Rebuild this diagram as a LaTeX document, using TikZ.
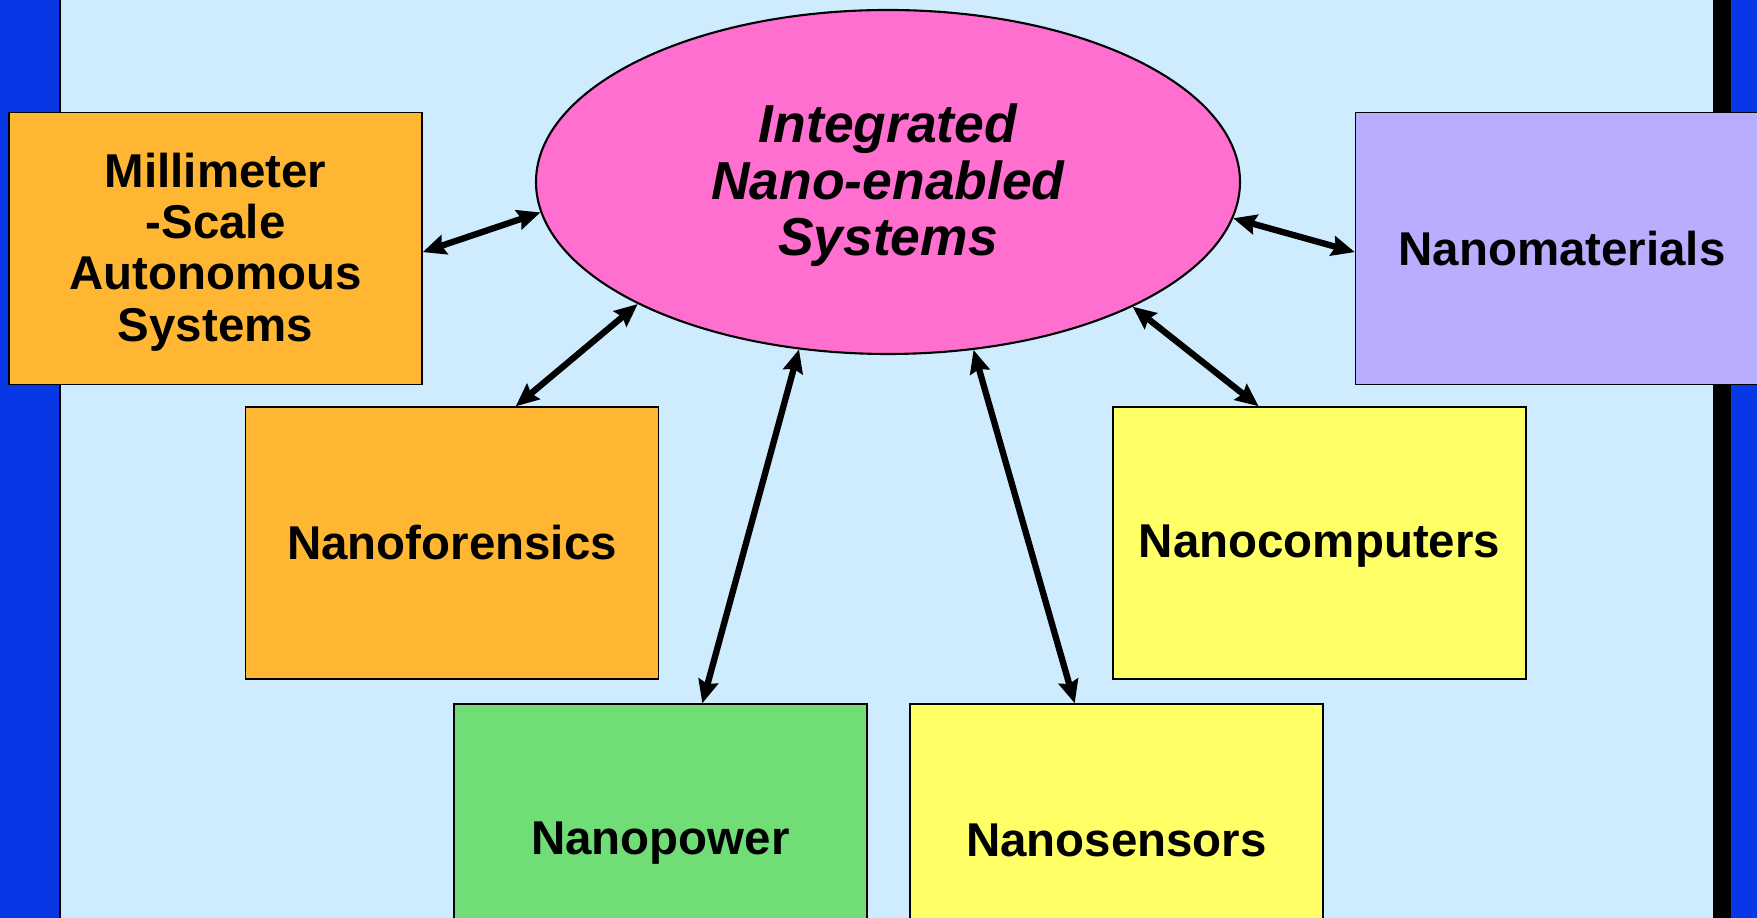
\documentclass[tikz,border=0pt]{standalone}
\usepackage{fontspec}
\setmainfont{Liberation Sans}
\usepackage{tikz}
\usetikzlibrary{shapes,arrows.meta}

\definecolor{slidebg}{HTML}{CFECFE}
\definecolor{slideblue}{HTML}{0838E6}
\definecolor{orangebox}{HTML}{FFB733}
\definecolor{pinkbox}{HTML}{FF6FCF}
\definecolor{yellowbox}{HTML}{FFFF66}
\definecolor{greenbox}{HTML}{70DD77}
\definecolor{purplebox}{HTML}{B8ADFF}

\tikzstyle{area}=[draw, line width=0.4pt, minimum width=4.13cm, minimum height=2.72cm, inner sep=0pt, align=center, font=\bfseries\fontsize{13.5}{14.6}\selectfont]
\tikzstyle{deep}=[text depth=0.9pt]
\tikzstyle{core}=[ellipse, draw, line width=0.6pt, fill=pinkbox, minimum width=7.04cm, minimum height=3.44cm, inner sep=0pt, align=center, text depth=1.3pt, font=\bfseries\itshape\fontsize{15.2}{16.2}\selectfont]
\tikzstyle{link}=[{Stealth[length=2.3mm,width=2.0mm,inset=0.3mm]}-{Stealth[length=2.3mm,width=2.0mm,inset=0.3mm]}, line width=1.8pt]

\begin{document}
\begin{tikzpicture}
 	\clip (0cm,0cm) rectangle (17.57cm,9.18cm);
 	\fill[slideblue] (0cm,0cm) rectangle (17.57cm,9.18cm);
 	\fill[slidebg] (0.60cm,0cm) rectangle (17.13cm,9.18cm);
 	\fill[black] (17.13cm,0cm) rectangle (17.31cm,9.18cm);
 	\draw[line width=0.5pt] (0.60cm,0cm) -- (0.60cm,9.18cm);

 	\node[core] (sys) at (8.88cm,7.36cm) {Integrated\\Nano-enabled\\Systems};
 	\node[area, deep, fill=orangebox] (mm) at (2.155cm,6.695cm) {Millimeter\\-Scale\\Autonomous\\Systems};
 	\node[area, fill=orangebox] (forensics) at (4.52cm,3.75cm) {Nanoforensics};
 	\node[area, deep, fill=yellowbox] (computers) at (13.195cm,3.75cm) {Nanocomputers};
 	\node[area, fill=purplebox] (materials) at (15.62cm,6.695cm) {Nanomaterials};
 	\node[area, deep, fill=greenbox] (power) at (6.605cm,0.78cm) {Nanopower};
 	\node[area, fill=yellowbox] (sensors) at (11.165cm,0.78cm) {Nanosensors};

 	\draw[link] (mm.-1.2) -- (sys.185.6);
 	\draw[link] (forensics.65) -- (sys.206.3);
 	\draw[link] (power.73.4) -- (sys.242.4);
 	\draw[link] (sensors.107.8) -- (sys.297.6);
 	\draw[link] (computers.114.7) -- (sys.333.5);
 	\draw[link] (materials.181.2) -- (sys.354.4);
\end{tikzpicture}
\end{document}
